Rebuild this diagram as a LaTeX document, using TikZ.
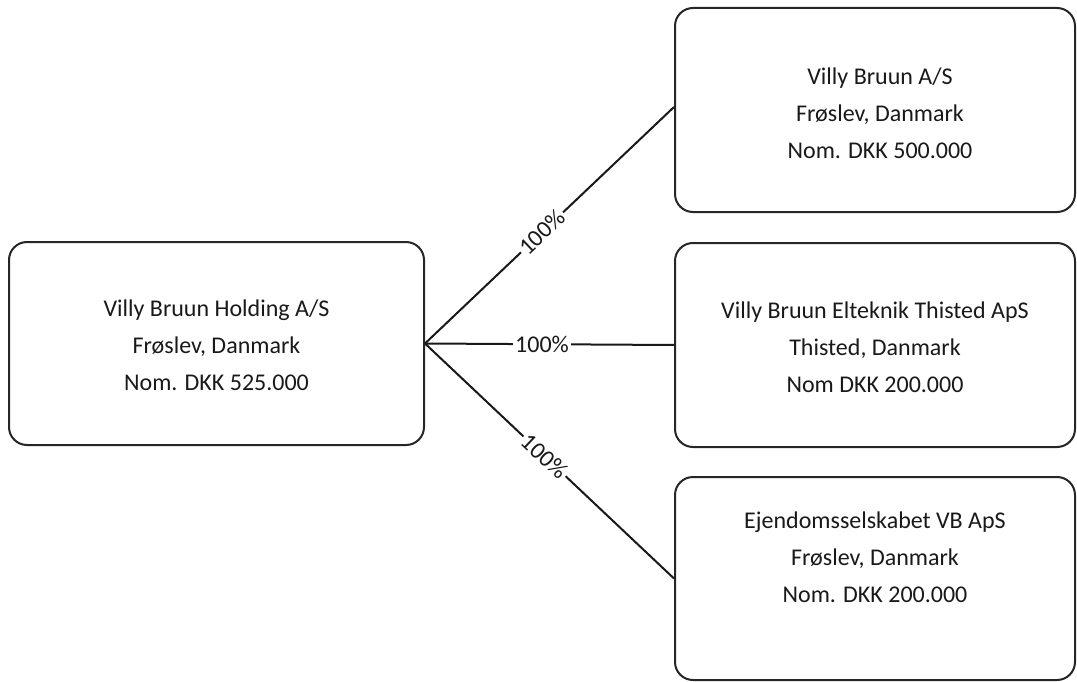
\documentclass[tikz,border=0pt]{standalone}
\usepackage{fontspec}
\setmainfont{Carlito}
\begin{document}
\begin{tikzpicture}[x=1pt,y=-1pt,
  box/.style={draw=black!85, line width=2pt, rounded corners=18pt, inner sep=0pt, minimum width=400pt, minimum height=204pt},
  txt/.style={align=center, font=\fontsize{24}{37}\selectfont, text=black!90},
  conn/.style={draw=black!90, line width=2pt},
  pct/.style={fill=white, inner sep=2pt, font=\fontsize{24}{26}\selectfont, text=black!90}]
\useasboundingbox (0,0) rectangle (1077,682);
\node[box, minimum width=415pt, minimum height=203pt] (h) at (216.5,343.5) {};
\node[txt] (ht) at (216.5,345) {Villy Bruun Holding A/S\\Frøslev, Danmark\\Nom. DKK 525.000};
\node[box] (a) at (875,110) {};
\node[txt] (at) at (880,113) {Villy Bruun A/S\\Frøslev, Danmark\\Nom. DKK 500.000};
\node[box] (b) at (875,345) {};
\node[txt] (bt) at (875,347) {Villy Bruun Elteknik Thisted ApS\\Thisted, Danmark\\Nom DKK 200.000};
\node[box, minimum height=203pt] (c) at (875,578.5) {};
\node[txt] (ct) at (875,557) {Ejendomsselskabet VB ApS\\Frøslev, Danmark\\Nom. DKK 200.000};
\draw[conn] (h.east) -- node[pct, sloped, pos=0.47] (la) {100\%} ([yshift=3pt]a.west);
\draw[conn] (h.east) -- node[pct, pos=0.47] (lb) {100\%} (b.west);
\draw[conn] (h.east) -- node[pct, sloped, pos=0.48] (lc) {100\%} (c.west);
\end{tikzpicture}
\end{document}
